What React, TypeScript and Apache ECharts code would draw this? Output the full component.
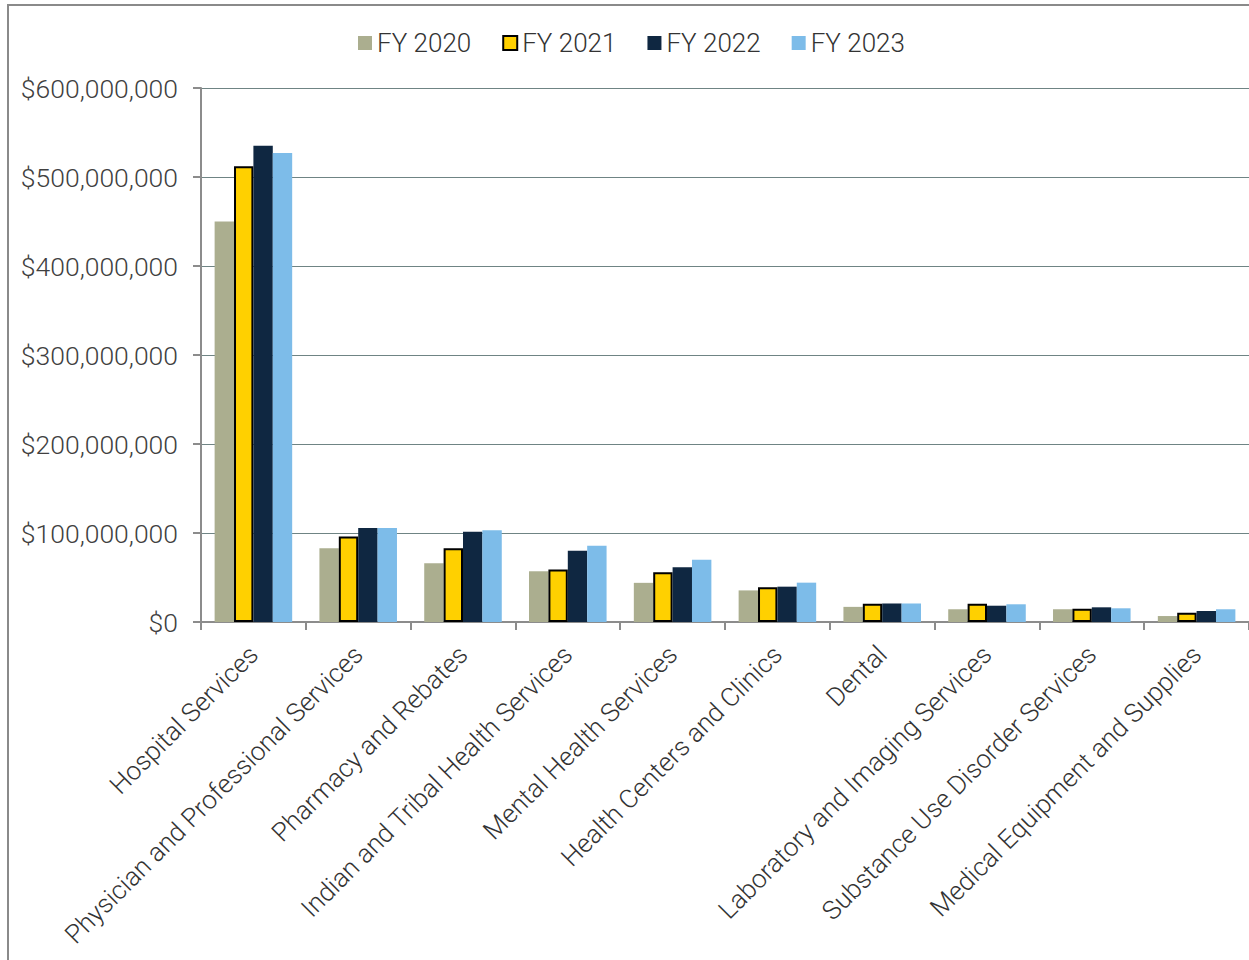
import React, { useEffect, useRef } from "react";
import * as echarts from "echarts";

const categories = [
  "Hospital Services",
  "Physician and Professional Services",
  "Pharmacy and Rebates",
  "Indian and Tribal Health Services",
  "Mental Health Services",
  "Health Centers and Clinics",
  "Dental",
  "Laboratory and Imaging Services",
  "Substance Use Disorder Services",
  "Medical Equipment and Supplies",
];

const seriesNames = ["FY 2020", "FY 2021", "FY 2022", "FY 2023"];

const fy2020 = [450e6, 83e6, 66e6, 57e6, 44e6, 35.5e6, 17e6, 14.3e6, 14.3e6, 6.7e6];
const fy2021 = [512e6, 96e6, 83e6, 59e6, 56e6, 39e6, 20.6e6, 20.6e6, 15e6, 10.5e6];
const fy2022 = [535e6, 105.6e6, 101.5e6, 80e6, 61.4e6, 39.7e6, 20.8e6, 18.3e6, 16.5e6, 12.4e6];
const fy2023 = [527e6, 105.6e6, 103e6, 85.7e6, 70e6, 44.2e6, 20.8e6, 19.9e6, 15.4e6, 14.3e6];

const colors = ["#abae8f", "#ffd000", "#0f2741", "#7dbce9"];

const fontFamily = "Roboto, 'Noto Sans', sans-serif";

export default function App() {
  const ref = useRef<HTMLDivElement>(null);
  useEffect(() => {
    if (!ref.current) return;
    const chart = echarts.init(ref.current, null, { renderer: "svg" });
    const data = [fy2020, fy2021, fy2022, fy2023];
    chart.setOption({
      animation: false,
      backgroundColor: "#ffffff",
      textStyle: { fontFamily },
      graphic: [
        {
          type: "rect",
          shape: { x: 8, y: 5, width: 1300, height: 1000 },
          style: { fill: "none", stroke: "#8a8a8a", lineWidth: 2 },
          z: 0,
        },
      ],
      legend: {
        top: 25,
        left: 353,
        icon: "rect",
        itemWidth: 14,
        itemHeight: 14,
        itemGap: 31,
        textStyle: { fontSize: 26, color: "#333", fontFamily, fontWeight: 300 },
        data: seriesNames,
      },
      grid: { left: 201, right: 0, top: 88, bottom: 338, containLabel: false },
      xAxis: {
        type: "category",
        data: categories,
        axisLine: { show: true, lineStyle: { color: "#8c8c8c", width: 2 } },
        axisTick: { show: true, length: 8, lineStyle: { color: "#8c8c8c", width: 2 } },
        axisLabel: {
          rotate: 45,
          interval: 0,
          fontSize: 26,
          color: "#333",
          fontFamily,
          fontWeight: 300,
          margin: 28,
        },
      },
      yAxis: {
        type: "value",
        min: 0,
        max: 600e6,
        interval: 100e6,
        axisLine: { show: true, lineStyle: { color: "#8c8c8c", width: 2 } },
        axisTick: { show: true, length: 8, lineStyle: { color: "#8c8c8c", width: 2 } },
        splitLine: { show: true, lineStyle: { color: "#6f8484", width: 1.2 } },
        axisLabel: {
          fontSize: 26.5,
          color: "#404040",
          fontFamily,
          fontWeight: 300,
          margin: 23,
          formatter: (v: number) => "$" + v.toLocaleString("en-US"),
        },
      },
      series: seriesNames.map((name, i) => ({
        name,
        type: "bar",
        data: data[i],
        barGap: "0%",
        barCategoryGap: "26%",
        itemStyle:
          i === 1
            ? { color: colors[i], borderColor: "#000", borderWidth: 2 }
            : { color: colors[i] },
      })),
    });
    return () => chart.dispose();
  }, []);
  return (
    <div
      ref={ref}
      style={{ position: "absolute", left: 0, top: 0, width: 1249, height: 960 }}
    />
  );
}
